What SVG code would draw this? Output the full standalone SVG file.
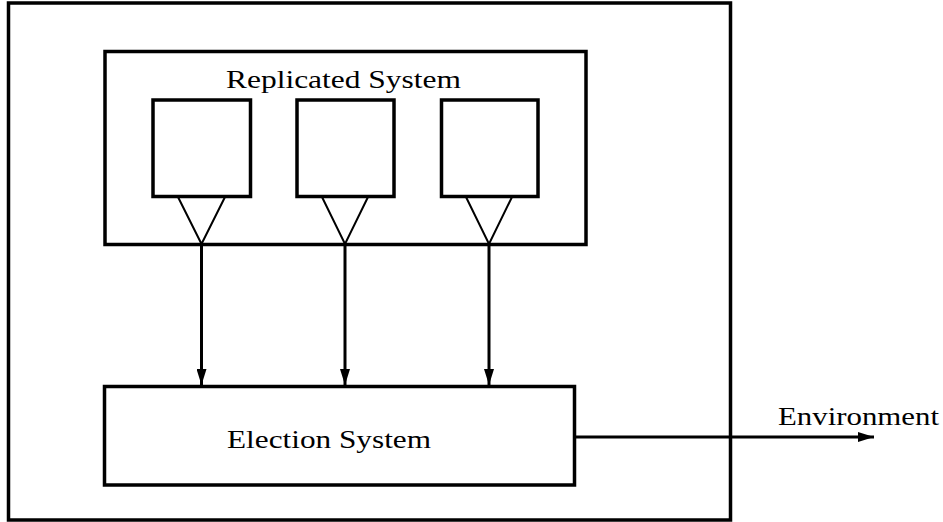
<svg xmlns="http://www.w3.org/2000/svg" width="943" height="522" viewBox="0 0 943 522">
<style>
.box{fill:none;stroke:#000;stroke-width:3.5}
.tri{fill:none;stroke:#000;stroke-width:2}
.conn{fill:none;stroke:#000;stroke-width:3}
.lbl{font-family:"Liberation Serif","DejaVu Serif",serif;font-size:26px;fill:#000}
</style>
<defs>
<marker id="ah" viewBox="0 0 16 10" refX="16" refY="5" markerWidth="16" markerHeight="10" markerUnits="userSpaceOnUse" orient="auto">
<path d="M0,0 L16,5 L0,10 Z" fill="#000"/>
</marker>
</defs>
<g id="outer"><rect class="box" x="8.5" y="3" width="722" height="517"/></g>
<g id="replicated">
<rect class="box" x="105" y="51.5" width="481" height="193"/>
<text class="lbl" x="226" y="88" textLength="235" lengthAdjust="spacingAndGlyphs">Replicated System</text>
</g>
<g id="replica1">
<rect class="box" x="153" y="100" width="97.5" height="96.5"/>
<path class="tri" d="M178,197 L201.5,244 L225,197"/>
</g>
<g id="replica2">
<rect class="box" x="297" y="100" width="97" height="96.5"/>
<path class="tri" d="M322,197 L345,244 L368,197"/>
</g>
<g id="replica3">
<rect class="box" x="441.5" y="100" width="96.5" height="96.5"/>
<path class="tri" d="M466,197 L489,244 L512,197"/>
</g>
<g id="election">
<rect class="box" x="104.5" y="386.5" width="470" height="98.5"/>
<text class="lbl" x="227" y="448" textLength="204" lengthAdjust="spacingAndGlyphs">Election System</text>
</g>
<g id="environment">
<text class="lbl" x="778" y="425" textLength="161" lengthAdjust="spacingAndGlyphs">Environment</text>
</g>
<g id="connectors">
<line class="conn" x1="201.5" y1="244" x2="201.5" y2="385" marker-end="url(#ah)"/>
<line class="conn" x1="345" y1="244" x2="345" y2="385" marker-end="url(#ah)"/>
<line class="conn" x1="489" y1="244" x2="489" y2="385" marker-end="url(#ah)"/>
<line class="conn" x1="576" y1="437" x2="874" y2="437" stroke-width="3.5" marker-end="url(#ah)"/>
</g>
</svg>
